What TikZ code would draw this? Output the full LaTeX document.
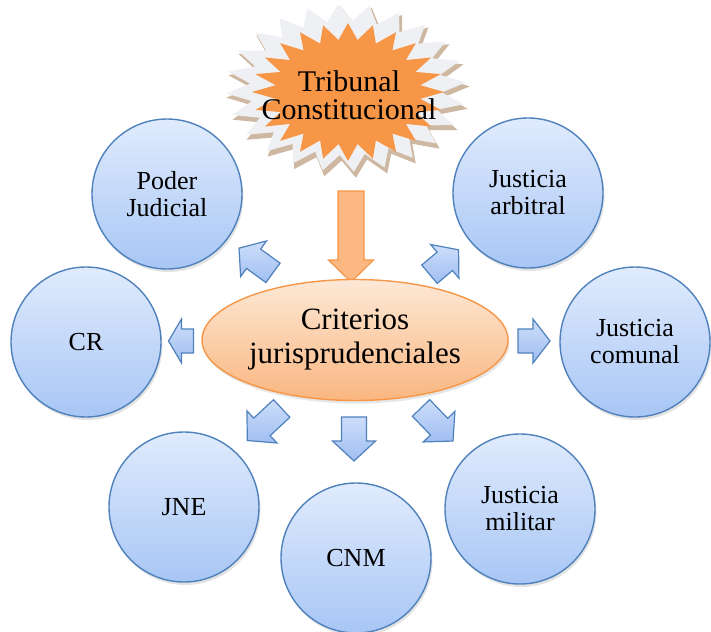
\documentclass[tikz,border=0pt]{standalone}
\usepackage{fontspec}
\setmainfont{Liberation Serif}
\usetikzlibrary{shapes.geometric,shadows}
\definecolor{cblue}{RGB}{79,129,189}
\definecolor{ctop}{RGB}{224,235,253}
\definecolor{cbot}{RGB}{168,198,245}
\definecolor{atop}{RGB}{205,222,250}
\definecolor{abot}{RGB}{160,190,242}
\definecolor{corange}{RGB}{247,150,70}
\definecolor{etop}{RGB}{253,232,214}
\definecolor{ebot}{RGB}{250,182,128}
\definecolor{burstshadow}{RGB}{165,125,85}
\definecolor{burstwhite}{RGB}{238,240,244}
\tikzset{
  pics/blockarrow/.style n args={4}{code={
    % #1 length, #2 head length, #3 half shaft width, #4 half head width
    \path[pic actions] ({-#1/2},#3) -- ({#1/2-#2},#3) -- ({#1/2-#2},#4) -- ({#1/2},0)
      -- ({#1/2-#2},-#4) -- ({#1/2-#2},-#3) -- ({-#1/2},-#3) -- cycle;
  }},
  pics/burst/.style n args={4}{code={
    % #1 x radius, #2 y radius, #3 spike depth ratio, #4 start angle
    \path[pic actions] ({#1*cos(#4)},{#2*sin(#4)})
      \foreach \i in {1,...,47} {
        -- ({#1*(1-#3*mod(\i,2))*cos(#4+\i*7.5)},{#2*(1-#3*mod(\i,2))*sin(#4+\i*7.5)})
      } -- cycle;
  }},
  org/.style={circle, draw=cblue, line width=1.4pt, top color=ctop, bottom color=cbot,
    minimum size=150pt, inner sep=0pt, align=center,
    font=\fontsize{26}{27}\selectfont,
    drop shadow={shadow xshift=1.5pt, shadow yshift=-3pt, opacity=0.22}},
  bluearrow/.style={draw=cblue, line width=1.2pt, line join=miter,
    top color=atop, bottom color=abot},
  orangearrow/.style={draw=corange, line width=1.2pt, line join=miter,
    fill={rgb,255:red,251;green,184;blue,130}},
}
\begin{document}
\begin{tikzpicture}[x=1pt,y=1pt]
\useasboundingbox (0,0) rectangle (711,-631);

% starburst
\pic[fill=burstshadow, opacity=0.55] at (348,-92) {burst={122}{86}{0.2}{3.75}};
\pic[fill=burstwhite] at (346,-88) {burst={120}{84}{0.2}{3.75}};
\pic[fill=corange] at (348,-92) {burst={96}{69}{0.24}{0}};
\node (tc) at (349,-95) [font=\fontsize{30}{28}\selectfont, align=center] {Tribunal\\Constitucional};

% orange arrow
\pic (oa) [orangearrow, rotate=-90] at (351,-236.5) {blockarrow={91}{22}{13}{22.5}};

% central ellipse
\node (cj) [ellipse, draw=corange, line width=1.4pt, top color=etop, bottom color=ebot,
  minimum width=306pt, minimum height=121pt, inner sep=0pt, align=center,
  font=\fontsize{31}{34}\selectfont,
  drop shadow={shadow xshift=1.5pt, shadow yshift=-3pt, opacity=0.2}] at (355,-340)
  {Criterios\\jurisprudenciales};

% circles
\node (pj)  [org] at (167,-194) {Poder\\Judicial};
\node (ja)  [org] at (528,-193) {Justicia\\arbitral};
\node (cr)  [org] at (86,-342)  {CR};
\node (jc)  [org] at (635,-342) {Justicia\\comunal};
\node (jne) [org] at (184,-507) {JNE};
\node (cnm) [org] at (356,-558) {CNM};
\node (jm)  [org] at (520,-509) {Justicia\\militar};

% blue arrows
\pic (a1) [bluearrow, rotate=144]  at (256,-260.5) {blockarrow={42}{18}{12}{22}};
\pic (a2) [bluearrow, rotate=40]   at (444,-262)   {blockarrow={38}{18}{12}{22}};
\pic (a3) [bluearrow, rotate=180]  at (181,-341)   {blockarrow={25}{13}{12}{22}};
\pic (a4) [bluearrow, rotate=0]    at (534,-341)   {blockarrow={32}{17}{12}{22}};
\pic (a5) [bluearrow, rotate=223]  at (264.5,-424.5) {blockarrow={47}{20}{12}{22}};
\pic (a6) [bluearrow, rotate=-90]  at (354,-439)   {blockarrow={44}{20}{12.5}{21.5}};
\pic (a7) [bluearrow, rotate=-46]  at (437,-424.5) {blockarrow={46}{20}{12}{22}};
\end{tikzpicture}
\end{document}
